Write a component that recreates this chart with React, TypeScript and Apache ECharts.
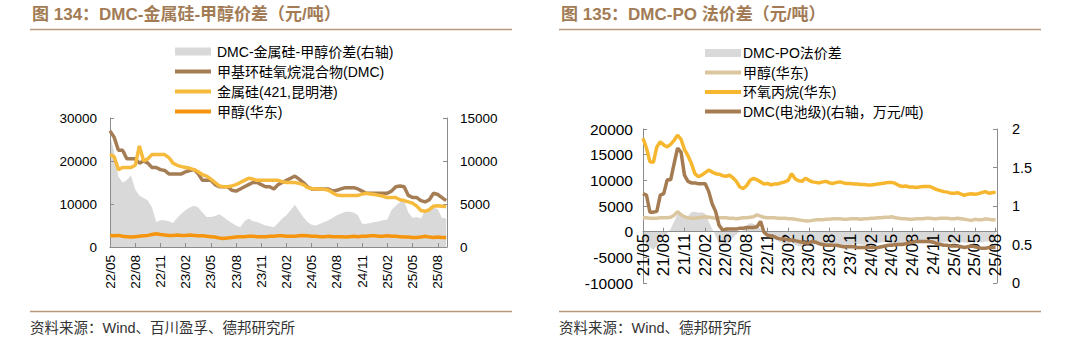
import React, { useEffect, useRef } from "react";
import * as echarts from "echarts";

// months between two consecutive values
const STEP = 0.5;

// ---------- Figure 134 (from 2022/05) ----------
const leftTicks = ["22/05", "22/08", "22/11", "23/02", "23/05", "23/08", "23/11", "24/02", "24/05", "24/08", "24/11", "25/02", "25/05", "25/08"];
// DMC-金属硅-甲醇价差 (right axis)
const leftSpread = [
  13000, 11000, 8200, 7500, 7800, 8300, 6700, 6000, 5700, 5400,
  4600, 2900, 3100, 3100, 3000, 2800, 3400, 3900, 4300, 4600,
  4800, 4600, 4000, 3500, 3500, 3600, 3800, 3500, 3100, 2800,
  2500, 2300, 3000, 3300, 3000, 2900, 2700, 2500, 2400, 2300,
  2800, 3300, 3700, 4300, 4900, 4200, 3500, 2900, 2600, 2500,
  2700, 2900, 3100, 3400, 3700, 3900, 4100, 4100, 4000, 3700,
  2700, 2700, 2800, 2900, 3000, 3100, 3200, 4300, 4800, 5200,
  5400, 4000, 3400, 3500, 3300, 4300, 4200, 4600, 4400, 3400,
  3300,
];
// 甲基环硅氧烷混合物(DMC)
const leftDmc = [
  27000, 25500, 22500, 22500, 20500, 20500, 20500, 19500, 20000, 19500,
  18500, 18500, 18000, 17800, 17000, 17000, 17000, 17000, 17500, 17800,
  18000, 17000, 15500, 15500, 15500, 14500, 14000, 14000, 14000, 13200,
  13000, 13500, 14000, 14500, 15000, 15000, 14500, 14000, 14000, 13500,
  14500, 15000, 15500, 16000, 16500, 15800, 15000, 14000, 13500, 13500,
  13500, 13500, 13500, 13000, 13200, 13500, 13800, 13800, 13800, 13500,
  13000, 12500, 12500, 12500, 12500, 12500, 12500, 13000, 14000, 14200,
  14000, 12000, 11500, 11500, 10800, 10500, 11000, 12500, 12200, 11500,
  10800,
];
// 金属硅(421,昆明港)
const leftSilicon = [
  21500, 21000, 18000, 18500, 18500, 18500, 19000, 23500, 20000, 20500,
  21500, 21500, 21500, 21500, 20800, 19500, 19000, 18700, 18500, 18300,
  18000, 17500, 16800, 16500, 15800, 15000, 14200, 14000, 14000, 14200,
  14500, 15000, 15500, 16000, 15800, 15500, 15500, 15500, 15500, 15500,
  15500, 15200, 15000, 15000, 15000, 14800, 14500, 13800, 13600, 13500,
  13500, 13400, 13200, 12600, 12100, 12000, 12000, 12000, 12000, 12000,
  12300, 12500, 12300, 12200, 12000, 11800, 11500, 11500, 11500, 11000,
  10800, 10500, 10200, 9500, 8500, 8300, 8700, 9500, 9600, 9500,
  9400,
];
// 甲醇(华东)
const leftMethanol = [
  2700, 2600, 2700, 2500, 2400, 2300, 2400, 2500, 2600, 2700,
  2900, 3100, 2900, 2800, 2700, 2700, 2800, 2700, 2700, 2800,
  2700, 2600, 2600, 2500, 2400, 2300, 2100, 2000, 2100, 2200,
  2300, 2400, 2400, 2500, 2500, 2400, 2400, 2400, 2500, 2500,
  2600, 2600, 2500, 2500, 2500, 2600, 2700, 2600, 2500, 2500,
  2400, 2400, 2500, 2400, 2400, 2400, 2300, 2400, 2500, 2400,
  2500, 2500, 2600, 2600, 2500, 2500, 2600, 2500, 2500, 2400,
  2300, 2300, 2200, 2200, 2300, 2500, 2300, 2200, 2300, 2200,
  2200,
];

// ---------- Figure 135 (from 2021/05) ----------
const rightTicks = ["21/05", "21/08", "21/11", "22/02", "22/05", "22/08", "22/11", "23/02", "23/05", "23/08", "23/11", "24/02", "24/05", "24/08", "24/11", "25/02", "25/05", "25/08"];
// DMC-PO法价差
const rightSpread = [
  -1500, -2500, -3000, -3500, -2800, -1500, -1000, -300, 500, 2000,
  3500, 3800, 2500, 3000, 3800, 3900, 3700, 3800, 3500, 2000,
  500, -800, -2500, -2900, -2600, -2000, -1200, -500, 0, 300,
  1200, 1700, 1500, 1200, 500, -500, -800, -1200, -1500, -1800,
  -2200, -2500, -2800, -2000, -2600, -2800, -3000, -2700, -2800, -2600,
  -2500, -2700, -2800, -2600, -2500, -2400, -2300, -2500, -2600, -2700,
  -2600, -2500, -2400, -2500, -2600, -2500, -2400, -2300, -2200, -2100,
  -2000, -2100, -2200, -2300, -2400, -2500, -2400, -2300, -2200, -2300,
  -2300, -2200, -2200, -2300, -2400, -2300, -2200, -2100, -2000, -2100,
  -2200, -2100, -2000, -2100, -2200, -2000, -1900, -2000, -2100, -1900,
  -1900, -2000, -1900,
];
// 甲醇(华东)
const rightMethanol = [
  2700, 2700, 2600, 2600, 2600, 2700, 2700, 2700, 2800, 3200,
  3900, 3300, 2900, 2700, 2600, 2600, 2700, 2800, 2900, 2800,
  2700, 2600, 2700, 2700, 2700, 2600, 2600, 2500, 2600, 2700,
  2700, 2800, 2900, 3300, 3000, 2800, 2700, 2700, 2700, 2600,
  2600, 2600, 2500, 2500, 2400, 2300, 2200, 2100, 2100, 2200,
  2300, 2300, 2300, 2400, 2400, 2500, 2500, 2500, 2400, 2400,
  2500, 2500, 2500, 2400, 2500, 2500, 2600, 2600, 2700, 2700,
  2800, 2800, 2900, 2700, 2600, 2500, 2500, 2400, 2400, 2500,
  2500, 2500, 2600, 2600, 2500, 2500, 2600, 2600, 2600, 2500,
  2500, 2600, 2500, 2400, 2300, 2200, 2400, 2300, 2300, 2500,
  2400, 2300, 2300,
];
// 环氧丙烷(华东)
const rightPO = [
  18200, 16300, 13600, 13500, 16500, 17500, 16900, 16500, 17000, 17800,
  18800, 18000, 16000, 14800, 13300, 11300, 10700, 11000, 11500, 12000,
  11600, 11300, 11200, 10900, 10800, 11000, 10500, 9800, 8700, 8400,
  9000, 10000, 10400, 10100, 9700, 9300, 9400, 9100, 9300, 9300,
  9500, 9700, 10000, 11300, 10300, 9900, 9800, 10400, 10000, 9700,
  9600, 9500, 9700, 9800, 9500, 9400, 9600, 9700, 9500, 9400,
  9400, 9300, 9300, 9200, 9200, 9100, 9100, 9200, 9300, 9400,
  9500, 9600, 9600, 9400, 9000, 8800, 8900, 8700, 8700, 8600,
  8700, 8800, 8800, 8800, 8500, 8200, 8000, 7800, 7700, 7500,
  7500, 7600, 7300, 7100, 7300, 7400, 7300, 7400, 7600, 7800,
  7500, 7600, 7700,
];
// DMC(电池级) (right axis, 万元/吨)
const rightDmcBattery = [
  1.16, 1.14, 0.92, 0.92, 0.93, 1.14, 1.16, 1.34, 1.34, 1.55,
  1.75, 1.70, 1.40, 1.32, 1.30, 1.30, 1.29, 1.29, 1.29, 1.19,
  1.03, 0.93, 0.75, 0.69, 0.70, 0.70, 0.70, 0.70, 0.71, 0.71,
  0.72, 0.72, 0.72, 0.73, 0.80, 0.66, 0.62, 0.61, 0.60, 0.58,
  0.57, 0.57, 0.56, 0.56, 0.55, 0.54, 0.53, 0.52, 0.52, 0.54,
  0.53, 0.51, 0.50, 0.49, 0.49, 0.49, 0.49, 0.48, 0.47, 0.47,
  0.47, 0.47, 0.46, 0.46, 0.46, 0.46, 0.46, 0.46, 0.46, 0.47,
  0.48, 0.49, 0.49, 0.50, 0.50, 0.50, 0.51, 0.52, 0.53, 0.54,
  0.54, 0.54, 0.54, 0.54, 0.53, 0.51, 0.50, 0.49, 0.49, 0.48,
  0.48, 0.48, 0.47, 0.46, 0.47, 0.48, 0.47, 0.46, 0.45, 0.45,
  0.46, 0.46, 0.46,
];

const FONT = "'Liberation Sans', Arial, 'Noto Sans CJK SC', sans-serif";
const TITLE_COLOR = "#a27b55";
const RULE_COLOR = "#b8997c";
const AXIS_COLOR = "#8c8c8c";
const GREY = "#d9d9d9";

const CHART_H = 342;
const R_GRID = { left: 103, right: 83, top: 129, bottom: 59 };
const R_MIN = -10000;
const R_MAX = 20000;

const toPairs = (arr: number[]) => arr.map((v, i) => [i * STEP, v]);

function tickFormatter(ticks: string[]) {
  return (v: number) => {
    const k = v / 3;
    return Number.isInteger(k) && ticks[k] ? ticks[k] : "";
  };
}

function axisBase(fontSize: number, margin: number) {
  return {
    axisLine: { show: true, lineStyle: { color: AXIS_COLOR, width: 1 } },
    axisTick: { show: true, inside: true, length: 4, lineStyle: { color: AXIS_COLOR } },
    splitLine: { show: false },
    axisLabel: { color: "#000", fontSize, fontFamily: FONT, margin, formatter: (v: number) => String(v) },
  };
}

function frame(title: string, titleX: number, source: string, legendItems: any[], legendX: number, legendTextX: number, legendYs: number[]) {
  const g: any[] = [
    { type: "text", x: titleX, y: 14, style: { text: title, fill: TITLE_COLOR, fontSize: 17, fontWeight: "bold", fontFamily: FONT, textVerticalAlign: "middle" } },
    { type: "line", shape: { x1: titleX - 2, y1: 29.5, x2: titleX + 480, y2: 29.5 }, style: { stroke: RULE_COLOR, lineWidth: 1.6 } },
    { type: "line", shape: { x1: titleX - 2, y1: 311.5, x2: titleX + 480, y2: 311.5 }, style: { stroke: RULE_COLOR, lineWidth: 1.6 } },
    { type: "text", x: titleX - 2, y: 328, style: { text: source, fill: "#333", fontSize: 14.5, fontFamily: FONT, textVerticalAlign: "middle" } },
  ];
  legendItems.forEach((it, i) => {
    const y = legendYs[i];
    if (it.area) {
      g.push({ type: "rect", shape: { x: legendX, y: y - 4, width: 36, height: 8 }, style: { fill: it.color } });
    } else {
      g.push({ type: "line", shape: { x1: legendX, y1: y, x2: legendX + 36, y2: y }, style: { stroke: it.color, lineWidth: 4 } });
    }
    g.push({ type: "text", x: legendTextX, y, style: { text: it.name, fill: "#000", fontSize: 14, fontFamily: FONT, textVerticalAlign: "middle" } });
  });
  return g;
}

function buildLeft(): any {
  const legend = [
    { name: "DMC-金属硅-甲醇价差(右轴)", color: GREY, area: true },
    { name: "甲基环硅氧烷混合物(DMC)", color: "#a57d55" },
    { name: "金属硅(421,昆明港)", color: "#f6bb3c" },
    { name: "甲醇(华东)", color: "#f5950f" },
  ];
  return {
    animation: false,
    textStyle: { fontFamily: FONT },
    grid: { left: 110, right: 93, top: 118, bottom: 95 },
    xAxis: {
      type: "value", min: 0, max: 40.1, interval: 3, z: 2,
      ...axisBase(13.5, 8),
      axisLabel: { color: "#000", fontSize: 13.5, fontFamily: FONT, margin: 8, rotate: 90, formatter: tickFormatter(leftTicks), showMaxLabel: false },
    },
    yAxis: [
      { type: "value", min: 0, max: 30000, interval: 10000, position: "left", z: 2, ...axisBase(13.5, 13) },
      { type: "value", min: 0, max: 15000, interval: 5000, position: "right", z: 2, ...axisBase(13.5, 13) },
    ],
    series: [
      { type: "line", name: legend[0].name, yAxisIndex: 1, data: toPairs(leftSpread), symbol: "none", lineStyle: { width: 0 }, itemStyle: { color: GREY }, areaStyle: { color: GREY, opacity: 1 }, z: 1 },
      { type: "line", name: legend[1].name, data: toPairs(leftDmc), symbol: "none", lineStyle: { width: 3.5, color: legend[1].color }, itemStyle: { color: legend[1].color }, z: 3 },
      { type: "line", name: legend[2].name, data: toPairs(leftSilicon), symbol: "none", lineStyle: { width: 3.5, color: legend[2].color }, itemStyle: { color: legend[2].color }, z: 4 },
      { type: "line", name: legend[3].name, data: toPairs(leftMethanol), symbol: "none", lineStyle: { width: 3.5, color: legend[3].color }, itemStyle: { color: legend[3].color }, z: 5 },
    ],
    graphic: frame("图 134：DMC-金属硅-甲醇价差（元/吨）", 32, "资料来源：Wind、百川盈孚、德邦研究所", legend, 175, 217, [51.5, 71.5, 91.5, 111.5]),
  };
}

function buildRight(): any {
  const legend = [
    { name: "DMC-PO法价差", color: GREY, area: true },
    { name: "甲醇(华东)", color: "#dbc79f" },
    { name: "环氧丙烷(华东)", color: "#f6b72e" },
    { name: "DMC(电池级)(右轴，万元/吨)", color: "#a57c52" },
  ];
  // x axis sits on the zero line of the left value axis (labels included)
  const plotH = CHART_H - R_GRID.top - R_GRID.bottom;
  const zeroOffset = -plotH * (0 - R_MIN) / (R_MAX - R_MIN);
  return {
    animation: false,
    textStyle: { fontFamily: FONT },
    grid: R_GRID,
    xAxis: {
      type: "value", min: 0, max: 51.2, interval: 3, z: 2,
      ...axisBase(17, 2),
      offset: zeroOffset,
      axisLine: { show: true, onZero: false, lineStyle: { color: AXIS_COLOR, width: 1 } },
      axisLabel: { color: "#000", fontSize: 17, fontFamily: FONT, margin: 2, rotate: 90, formatter: tickFormatter(rightTicks), showMaxLabel: false },
    },
    yAxis: [
      { type: "value", min: R_MIN, max: R_MAX, interval: 5000, position: "left", z: 2, ...axisBase(15.5, 10) },
      { type: "value", min: 0, max: 2, interval: 0.5, position: "right", z: 2, ...axisBase(14.5, 15) },
    ],
    series: [
      { type: "line", name: legend[0].name, data: toPairs(rightSpread), symbol: "none", lineStyle: { width: 0 }, itemStyle: { color: GREY }, areaStyle: { color: GREY, opacity: 1 }, z: 1 },
      { type: "line", name: legend[1].name, data: toPairs(rightMethanol), symbol: "none", lineStyle: { width: 3.5, color: legend[1].color }, itemStyle: { color: legend[1].color }, z: 3 },
      { type: "line", name: legend[2].name, data: toPairs(rightPO), symbol: "none", lineStyle: { width: 3.5, color: legend[2].color }, itemStyle: { color: legend[2].color }, z: 4 },
      { type: "line", name: legend[3].name, yAxisIndex: 1, data: toPairs(rightDmcBattery), symbol: "none", lineStyle: { width: 3.5, color: legend[3].color }, itemStyle: { color: legend[3].color }, z: 5 },
    ],
    graphic: frame("图 135：DMC-PO 法价差（元/吨）", 21, "资料来源：Wind、德邦研究所", legend, 165, 203, [53, 72.5, 92, 111.5]),
  };
}

export default function App() {
  const leftRef = useRef<HTMLDivElement>(null);
  const rightRef = useRef<HTMLDivElement>(null);
  useEffect(() => {
    const l = echarts.init(leftRef.current!, null, { renderer: "svg" });
    l.setOption(buildLeft());
    const r = echarts.init(rightRef.current!, null, { renderer: "svg" });
    r.setOption(buildRight());
    return () => {
      l.dispose();
      r.dispose();
    };
  }, []);
  return (
    <div style={{ position: "absolute", left: 0, top: 0, width: 1080, height: CHART_H, background: "#fff" }}>
      <div ref={leftRef} style={{ position: "absolute", left: 0, top: 0, width: 540, height: CHART_H }} />
      <div ref={rightRef} style={{ position: "absolute", left: 540, top: 0, width: 540, height: CHART_H }} />
    </div>
  );
}
